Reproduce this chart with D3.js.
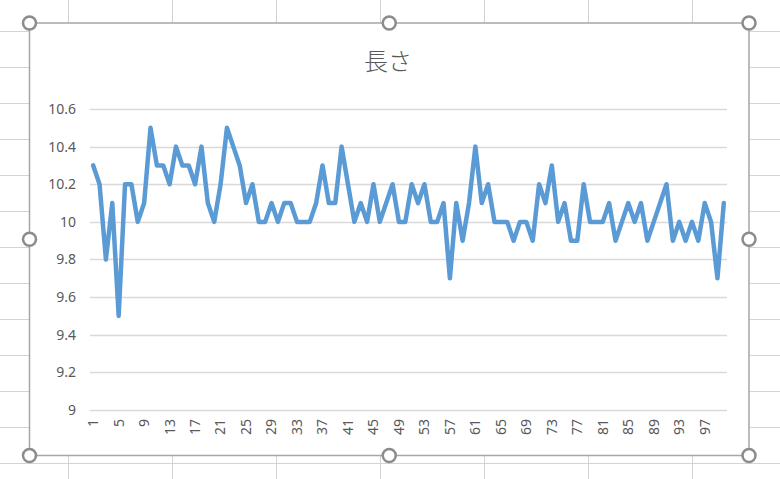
<!DOCTYPE html>
<html>
<head>
<meta charset="utf-8">
<script src="https://cdn.jsdelivr.net/npm/d3@7"></script>
<style>
html,body{margin:0;padding:0;background:#fff;}
svg{display:block;}
</style>
</head>
<body>
<svg id="chart" width="780" height="479"></svg>
<script>
const title = "長さ";
const categories = d3.range(1, 101);
const values = [
  10.3,10.2,9.8,10.1,9.5,10.2,10.2,10.0,10.1,10.5,
  10.3,10.3,10.2,10.4,10.3,10.3,10.2,10.4,10.1,10.0,
  10.2,10.5,10.4,10.3,10.1,10.2,10.0,10.0,10.1,10.0,
  10.1,10.1,10.0,10.0,10.0,10.1,10.3,10.1,10.1,10.4,
  10.2,10.0,10.1,10.0,10.2,10.0,10.1,10.2,10.0,10.0,
  10.2,10.1,10.2,10.0,10.0,10.1,9.7,10.1,9.9,10.1,
  10.4,10.1,10.2,10.0,10.0,10.0,9.9,10.0,10.0,9.9,
  10.2,10.1,10.3,10.0,10.1,9.9,9.9,10.2,10.0,10.0,
  10.0,10.1,9.9,10.0,10.1,10.0,10.1,9.9,10.0,10.1,
  10.2,9.9,10.0,9.9,10.0,9.9,10.1,10.0,9.7,10.1
];
const yTicks = [9, 9.2, 9.4, 9.6, 9.8, 10, 10.2, 10.4, 10.6];
const xTickLabels = [1,5,9,13,17,21,25,29,33,37,41,45,49,53,57,61,65,69,73,77,81,85,89,93,97];

const svg = d3.select("#chart");
const W = 780, H = 479;

// spreadsheet background grid
const bg = svg.append("g");
const colX = [68.5,172.5,276.5,380.5,484.5,588.5,692.5];
const rowY = d3.range(31.5, H, 36);
bg.selectAll("line.c").data(colX).join("line")
  .attr("x1", d=>d).attr("x2", d=>d).attr("y1", 0).attr("y2", H)
  .attr("stroke", "#d4d4d4").attr("stroke-width", 1);
bg.selectAll("line.r").data(rowY).join("line")
  .attr("x1", 0).attr("x2", W).attr("y1", d=>d).attr("y2", d=>d)
  .attr("stroke", "#d4d4d4").attr("stroke-width", 1);

// chart area
const cx0 = 29.5, cy0 = 23, cx1 = 749, cy1 = 455.5;
svg.append("rect").attr("x", cx0).attr("y", cy0)
  .attr("width", cx1-cx0).attr("height", cy1-cy0)
  .attr("fill", "#fff").attr("stroke", "#a6a6a6").attr("stroke-width", 1.5);

const x = d3.scaleBand().domain(categories).range([90, 727]);
const y = d3.scaleLinear().domain([9, 10.6]).range([410, 109]);

// gridlines
svg.append("g").selectAll("line").data(yTicks).join("line")
  .attr("x1", 90).attr("x2", 727)
  .attr("y1", d=>Math.round(y(d))+0.5).attr("y2", d=>Math.round(y(d))+0.5)
  .attr("stroke", "#d9d9d9").attr("stroke-width", 1.3);

// y axis
const yAxis = svg.append("g").attr("transform", "translate(76,0)")
  .call(d3.axisLeft(y).tickValues(yTicks).tickSize(0).tickPadding(0)
    .tickFormat(d => String(+d.toFixed(1))));
yAxis.select(".domain").remove();
yAxis.selectAll("text").attr("fill", "#595959")
  .style("font-family", "'Noto Sans', 'Open Sans', sans-serif").style("font-size", "14px");

// x axis
const xAxis = svg.append("g").attr("transform", "translate(0,410)")
  .call(d3.axisBottom(x).tickValues(xTickLabels).tickSize(0).tickPadding(0));
xAxis.select(".domain").remove();
xAxis.selectAll("text")
  .attr("fill", "#595959")
  .style("font-family", "'Noto Sans', 'Open Sans', sans-serif").style("font-size", "14px")
  .attr("text-anchor", "end")
  .attr("transform", "rotate(-90)")
  .attr("x", -9).attr("y", 0).attr("dy", "0.35em");

// line
const line = d3.line()
  .x((d,i) => x(categories[i]) + x.bandwidth()/2)
  .y(d => y(d));
svg.append("path").datum(values)
  .attr("d", line)
  .attr("fill", "none")
  .attr("stroke", "#5b9bd5")
  .attr("stroke-width", 4.5)
  .attr("stroke-linejoin", "round")
  .attr("stroke-linecap", "round");

// title
svg.append("text").attr("x", 388).attr("y", 70)
  .attr("text-anchor", "middle")
  .attr("fill", "#595959")
  .style("font-family", "'Noto Sans CJK JP', sans-serif")
  .style("font-size", "24px")
  .style("font-weight", "300")
  .text(title);

// selection handles
const hx = [cx0, (cx0+cx1)/2, cx1];
const hy = [cy0, (cy0+cy1)/2, cy1];
const handles = [];
hx.forEach((a,i)=>hy.forEach((b,j)=>{ if(!(i===1&&j===1)) handles.push([a,b]); }));
svg.append("g").selectAll("circle").data(handles).join("circle")
  .attr("cx", d=>d[0]).attr("cy", d=>d[1]).attr("r", 6.5)
  .attr("fill", "#fff").attr("stroke", "#8c8c8c").attr("stroke-width", 2.5);
</script>
</body>
</html>
